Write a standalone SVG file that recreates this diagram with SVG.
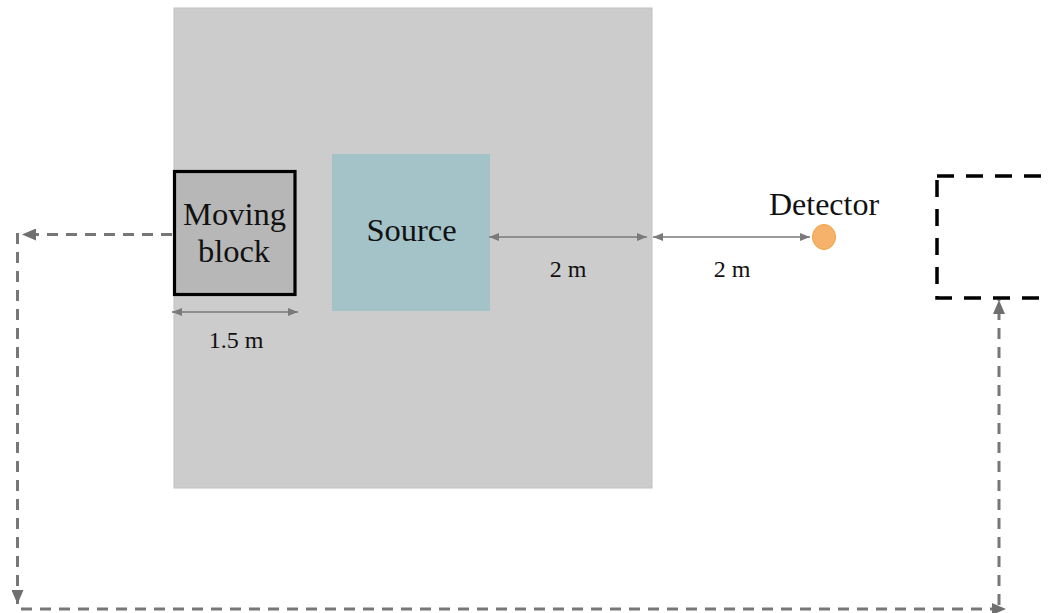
<svg xmlns="http://www.w3.org/2000/svg" width="1051" height="613" viewBox="0 0 1051 613">
  <style>
    .lbl { font-family: "Liberation Serif", "Times New Roman", serif; fill: #111; text-anchor: middle; }
    .big { font-size: 32.5px; }
    .dim { font-size: 24px; }
    .dimline { stroke: #7a7a7a; stroke-width: 1.5; fill: none; }
    .flow { stroke: #777; stroke-width: 3; fill: none; stroke-dasharray: 11 8; }
  </style>
  <defs>
    <marker id="dimHead" viewBox="0 0 10 8" refX="10" refY="4" markerWidth="10" markerHeight="8" markerUnits="userSpaceOnUse" orient="auto-start-reverse">
      <path d="M0,0 L10,4 L0,8 Z" fill="#7a7a7a"/>
    </marker>
    <marker id="flowHead" viewBox="0 0 14 12" refX="14" refY="6" markerWidth="14" markerHeight="12" markerUnits="userSpaceOnUse" orient="auto">
      <path d="M0,0 L14,6 L0,12 Z" fill="#6f6f6f"/>
    </marker>
  </defs>

  <!-- shielded room -->
  <g id="room">
    <rect x="174" y="8" width="478" height="480" fill="#cccccc" stroke="#c2c2c2" stroke-width="1"/>
  </g>

  <!-- moving block -->
  <g id="moving-block">
    <rect x="174.5" y="171.5" width="120.5" height="123" fill="#b7b7b7" stroke="#000" stroke-width="3.2"/>
    <text class="lbl big" x="234.5" y="225">Moving</text>
    <text class="lbl big" x="234" y="262">block</text>
  </g>

  <!-- source -->
  <g id="source">
    <rect x="332" y="154" width="158" height="157" fill="#a3c3c8"/>
    <text class="lbl big" x="411.5" y="241">Source</text>
  </g>

  <!-- detector -->
  <g id="detector">
    <ellipse cx="824" cy="237" rx="11.5" ry="12.5" fill="#f6b26b" stroke="#f1a142" stroke-width="1"/>
    <text class="lbl" font-size="32" x="824" y="215">Detector</text>
  </g>

  <!-- block end position -->
  <g id="block-end">
    <rect x="937" y="176" width="135" height="122" fill="none" stroke="#000" stroke-width="3.5" stroke-dasharray="17 12"/>
  </g>

  <!-- dimension labels -->
  <g id="dimensions">
    <text class="lbl dim" x="236" y="348">1.5 m</text>
    <text class="lbl dim" x="568" y="277">2 m</text>
    <text class="lbl dim" x="732" y="277">2 m</text>
  </g>

  <!-- connectors -->
  <g id="connectors">
    <line class="dimline" x1="172" y1="312" x2="298" y2="312" marker-start="url(#dimHead)" marker-end="url(#dimHead)"/>
    <line class="dimline" x1="489" y1="237" x2="647" y2="237" marker-start="url(#dimHead)" marker-end="url(#dimHead)"/>
    <line class="dimline" x1="653" y1="237" x2="810" y2="237" marker-start="url(#dimHead)" marker-end="url(#dimHead)"/>

    <line class="flow" x1="172" y1="234.5" x2="22" y2="234.5" marker-end="url(#flowHead)"/>
    <line class="flow" x1="17.5" y1="233" x2="17.5" y2="604" marker-end="url(#flowHead)"/>
    <line class="flow" x1="21" y1="609" x2="1006" y2="609" marker-end="url(#flowHead)"/>
    <line class="flow" x1="999" y1="605" x2="999" y2="300" marker-end="url(#flowHead)"/>
  </g>
</svg>
